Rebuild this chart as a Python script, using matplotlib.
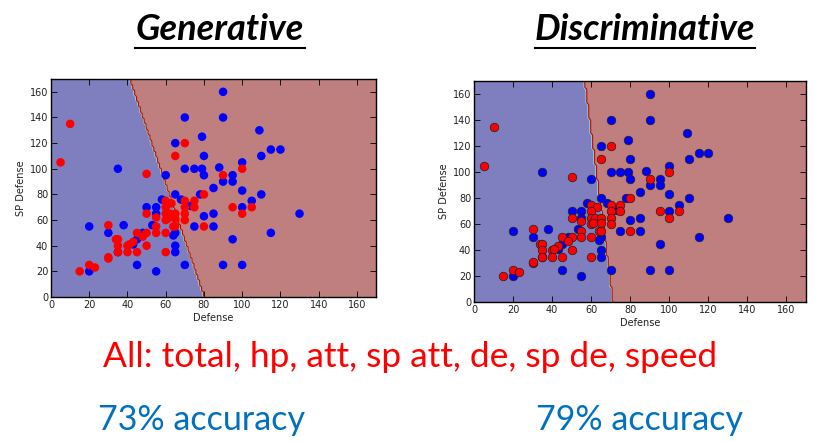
import numpy as np
import matplotlib
matplotlib.use("Agg")
import matplotlib.pyplot as plt
from matplotlib.lines import Line2D

# ---- data (Defense, SP Defense) ----
blue_x = [90, 90, 70, 109, 79, 65, 115, 120, 80, 110, 100, 88, 35, 70, 75, 79, 60, 80, 95, 90,
          95, 85, 100, 65, 78, 110, 58, 68, 105, 73, 50, 55, 100, 55, 85, 130, 80, 53, 38, 20,
          75, 85, 30, 48, 65, 64, 45, 43, 65, 65, 35, 115, 95, 45, 70, 90, 100, 55, 20]
blue_y = [160, 140, 140, 130, 125, 120, 115, 115, 110, 110, 105, 101, 100, 100, 100, 100, 95, 95, 95, 90,
          90, 85, 83, 80, 80, 80, 76, 76, 75, 71, 70, 70, 70, 65, 65, 65, 63, 56, 56, 55,
          55, 55, 50, 50, 50, 48, 45, 41, 40, 35, 35, 50, 45, 25, 25, 25, 25, 20, 20]
red_x = [10, 5, 50, 70, 65, 90, 100, 80, 60, 70, 75, 63, 60, 70, 75, 95, 105, 50, 60, 62,
         65, 70, 100, 55, 60, 61, 65, 70, 30, 55, 64, 65, 80, 45, 50, 55, 60, 48, 34, 35,
         43, 35, 40, 41, 50, 35, 40, 45, 60, 30, 30, 20, 23, 15]
red_y = [135, 105, 96, 120, 110, 95, 100, 80, 75, 75, 75, 73, 70, 70, 70, 70, 70, 65, 65, 65,
         65, 65, 65, 62, 60, 61, 61, 60, 56, 55, 55, 55, 55, 50, 50, 50, 50, 47, 45, 45,
         43, 40, 40, 41, 40, 35, 35, 35, 35, 30, 31, 25, 23, 20]

# decision boundaries: x position at SP Defense = 170 (top) and 0 (bottom)
gen_boundary = (41.0, 80.0)
disc_boundary = (56.5, 71.0)

titles = ["Generative", "Discriminative"]
accuracies = ["73% accuracy", "79% accuracy"]
features_text = "All: total, hp, att, sp att, de, sp de, speed"
ticks = [0, 20, 40, 60, 80, 100, 120, 140, 160]

fig = plt.figure(figsize=(8.15, 4.42), dpi=100)
W, H = 815, 442

def px_axes(l, r, t, b):
    return fig.add_axes([l / W, 1 - b / H, (r - l) / W, (b - t) / H])

ax1 = px_axes(51, 376, 79, 297)
ax2 = px_axes(474, 806, 81, 302)

gx = np.arange(0, 171, 1.0)
gy = np.arange(0, 171, 1.0)
XX, YY = np.meshgrid(gx, gy)

levels = [0, 0.2, 0.4, 0.6, 0.8, 1.0]
band_colors = ["#7f7fbf", "#5fc8d8", "#a0d060", "#f0e040", "#bf7f7f"]
band_colors2 = ["#7f7fbf", "#5fc8d8", "#60c8c8", "#d04010", "#bf7f7f"]

def draw(ax, boundary, edge, cols):
    top, bottom = boundary
    xb = bottom + (top - bottom) * YY / 170.0
    Z = 1 / (1 + np.exp(-30 * (XX - xb)))
    ax.contourf(XX, YY, Z, levels=levels, colors=cols, antialiased=True)
    ax.contour(XX, YY, Z, levels=[0.75], colors=["#b01000"], linewidths=0.8)
    ax.scatter(blue_x, blue_y, s=38, c="#0000ff", edgecolors=edge, linewidths=0.5, zorder=3)
    ax.scatter(red_x, red_y, s=38, c="#ff0000", edgecolors=edge, linewidths=0.5, zorder=3)
    ax.set_xlim(0, 170)
    ax.set_ylim(0, 170)
    ax.set_xticks(ticks)
    ax.set_yticks(ticks)
    ax.tick_params(direction="in", top=True, right=True, length=4, width=0.6,
                   labelsize=7, labelcolor="#222222", pad=2)
    for s in ax.spines.values():
        s.set_linewidth(1.0)
    ax.set_xlabel("Defense", fontsize=7, color="#222222", labelpad=2)
    ax.set_ylabel("SP Defense", fontsize=7, color="#222222", labelpad=3)

draw(ax1, gen_boundary, "none", band_colors)
draw(ax2, disc_boundary, "#202020", band_colors2)

title_font = ["Lato", "DejaVu Sans"]
fig.text(220 / W, 1 - 29 / H, titles[0], fontsize=26, fontweight="bold", fontstyle="italic",
         family=title_font, ha="center", va="center", color="black")
fig.text(645 / W, 1 - 29 / H, titles[1], fontsize=26, fontweight="bold", fontstyle="italic",
         family=title_font, ha="center", va="center", color="black")
fig.add_artist(Line2D([135 / W, 305 / W], [1 - 48 / H, 1 - 48 / H], color="black", lw=1.5))
fig.add_artist(Line2D([535 / W, 755 / W], [1 - 48 / H, 1 - 48 / H], color="black", lw=1.5))

body_font = ["Lato", "DejaVu Sans"]
fig.text(410 / W, 1 - 357 / H, features_text, fontsize=25.5, family=body_font,
         ha="center", va="center", color="#ff0000")
fig.text(202 / W, 1 - 420 / H, accuracies[0], fontsize=24.5, family=body_font,
         ha="center", va="center", color="#0070c0")
fig.text(640 / W, 1 - 420 / H, accuracies[1], fontsize=24.5, family=body_font,
         ha="center", va="center", color="#0070c0")

fig.savefig("out.png", dpi=100)
